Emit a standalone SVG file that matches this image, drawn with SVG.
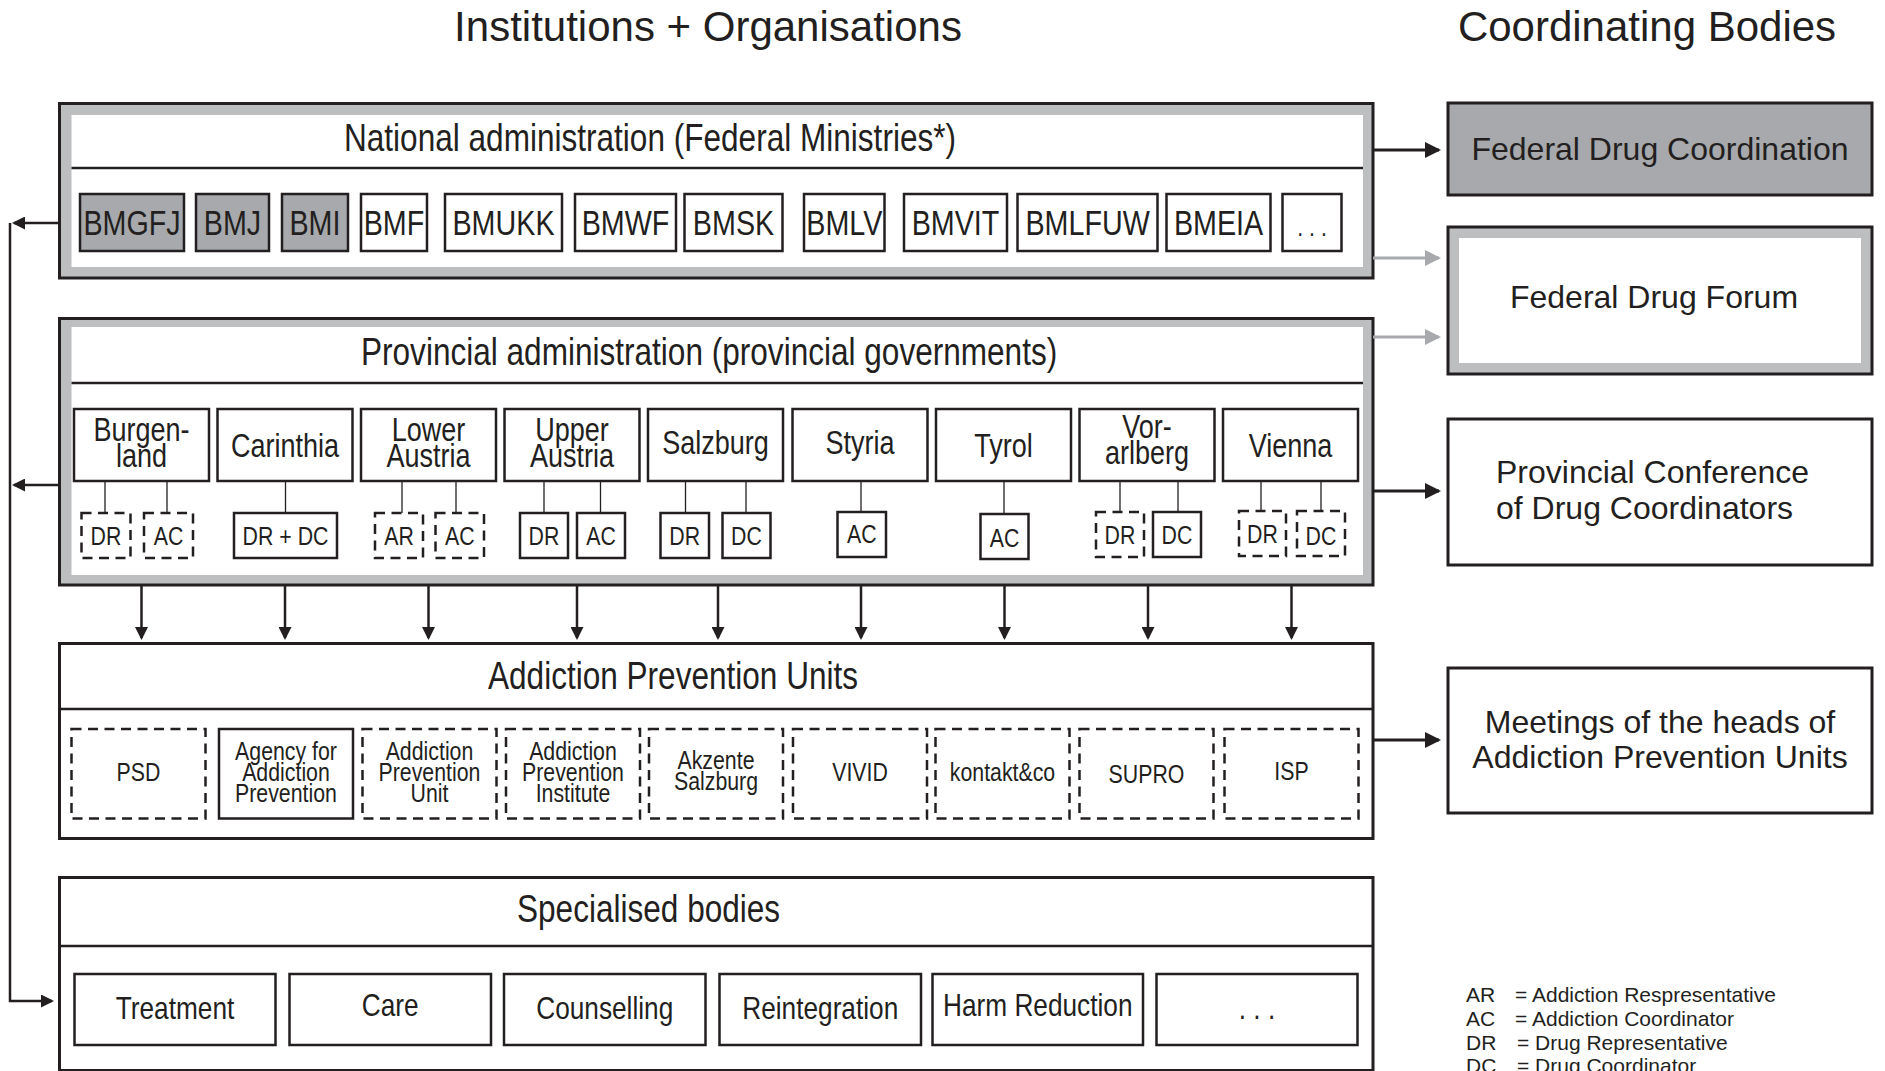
<svg xmlns="http://www.w3.org/2000/svg" width="1885" height="1071" viewBox="0 0 1885 1071">
<defs>
<style>
.band{fill:#bcbec0;stroke:#231f20;stroke-width:3}
.wh{fill:#fff;stroke:none}
.ol{fill:#fff;stroke:#231f20;stroke-width:3}
.bx{fill:#fff;stroke:#231f20;stroke-width:2.5}
.gb{fill:#a7a9ac;stroke:#231f20;stroke-width:2.5}
.gb3{fill:#a7a9ac;stroke:#231f20;stroke-width:3}
.ds{fill:#fff;stroke:#231f20;stroke-width:2.5;stroke-dasharray:10 6.5}
.hl{stroke:#231f20;stroke-width:2.5;fill:none}
.tl{stroke:#231f20;stroke-width:1.3;fill:none}
.cn{stroke:#231f20;stroke-width:3;fill:none}
.cg{stroke:#a7a9ac;stroke-width:3;fill:none}
.cs{stroke:#231f20;stroke-width:2.5;fill:none}
text{fill:#231f20}
.n{font-family:"Liberation Sans",Arial,sans-serif;transform-box:fill-box;transform-origin:center;transform:scaleX(0.82)}
.n.st{transform-origin:left center}
.r{font-family:"Liberation Sans",Arial,sans-serif}
.m{text-anchor:middle}
.hd{font-size:38.5px}
.mn{font-size:35px}
.pv{font-size:33px}
.sb{font-size:26px}
.sp{font-size:32px}
.rt{font-size:32px}
.ti{font-size:42px}
.lg{font-size:21px}
</style>
<marker id="ah" viewBox="0 0 16 16" refX="14" refY="8" markerWidth="16" markerHeight="16" markerUnits="userSpaceOnUse" orient="auto"><path d="M0,0 L16,8 L0,16 z" fill="#231f20"/></marker>
<marker id="ahg" viewBox="0 0 16 16" refX="14" refY="8" markerWidth="16" markerHeight="16" markerUnits="userSpaceOnUse" orient="auto"><path d="M0,0 L16,8 L0,16 z" fill="#a7a9ac"/></marker>
<marker id="as" viewBox="0 0 13 13" refX="11" refY="6.5" markerWidth="13" markerHeight="13" markerUnits="userSpaceOnUse" orient="auto"><path d="M0,0 L13,6.5 L0,13 z" fill="#231f20"/></marker>
</defs>
<rect width="1885" height="1071" fill="#fff"/>

<g id="titles">
<text class="r ti m" x="708" y="41">Institutions + Organisations</text>
<text class="r ti m" x="1647" y="41">Coordinating Bodies</text>
</g>

<g id="national">
<rect class="band" x="59.5" y="103.5" width="1313.5" height="174.5"/>
<rect class="wh" x="71.5" y="115" width="1291.5" height="152"/>
<line class="hl" x1="71.5" y1="168" x2="1363" y2="168"/>
<text class="n st hd" x="344" y="151">National administration (Federal Ministries*)</text>
<g id="ministries">
<rect class="gb" x="80" y="194" width="104" height="57"/><text class="n mn m" x="132" y="235">BMGFJ</text>
<rect class="gb" x="196" y="194" width="73" height="57"/><text class="n mn m" x="232.5" y="235">BMJ</text>
<rect class="gb" x="282" y="194" width="66" height="57"/><text class="n mn m" x="315" y="235">BMI</text>
<rect class="bx" x="361" y="194" width="66" height="57"/><text class="n mn m" x="394" y="235">BMF</text>
<rect class="bx" x="445" y="194" width="117" height="57"/><text class="n mn m" x="503.5" y="235">BMUKK</text>
<rect class="bx" x="575" y="194" width="101" height="57"/><text class="n mn m" x="625.5" y="235">BMWF</text>
<rect class="bx" x="684.5" y="194" width="98" height="57"/><text class="n mn m" x="733.5" y="235">BMSK</text>
<rect class="bx" x="804" y="194" width="80.5" height="57"/><text class="n mn m" x="844.25" y="235">BMLV</text>
<rect class="bx" x="904" y="194" width="103" height="57"/><text class="n mn m" x="955.5" y="235">BMVIT</text>
<rect class="bx" x="1017.5" y="194" width="140" height="57"/><text class="n mn m" x="1087.5" y="235">BMLFUW</text>
<rect class="bx" x="1166.5" y="194" width="104" height="57"/><text class="n mn m" x="1218.5" y="235">BMEIA</text>
<rect class="bx" x="1282.5" y="194" width="59" height="57"/><text class="n sb m" x="1312" y="236">. . .</text>
</g>
</g>

<g id="provincial">
<rect class="band" x="59.5" y="318.5" width="1313.5" height="266.5"/>
<rect class="wh" x="71.5" y="327" width="1291.5" height="248"/>
<line class="hl" x1="71.5" y1="383" x2="1363" y2="383"/>
<text class="n st hd" x="361" y="365">Provincial administration (provincial governments)</text>
<g id="provinces">
<rect class="bx" x="74" y="409" width="135" height="72"/><text class="n pv m" x="141.5" y="441">Burgen-</text><text class="n pv m" x="141.5" y="467">land</text>
<rect class="bx" x="217.5" y="409" width="135" height="72"/><text class="n pv m" x="285" y="457">Carinthia</text>
<rect class="bx" x="361" y="409" width="135" height="72"/><text class="n pv m" x="428.5" y="441">Lower</text><text class="n pv m" x="428.5" y="467">Austria</text>
<rect class="bx" x="504.5" y="409" width="135" height="72"/><text class="n pv m" x="572" y="441">Upper</text><text class="n pv m" x="572" y="467">Austria</text>
<rect class="bx" x="648" y="409" width="135" height="72"/><text class="n pv m" x="715.5" y="454">Salzburg</text>
<rect class="bx" x="792.5" y="409" width="135" height="72"/><text class="n pv m" x="860" y="454">Styria</text>
<rect class="bx" x="936" y="409" width="135" height="72"/><text class="n pv m" x="1003.5" y="457">Tyrol</text>
<rect class="bx" x="1079.5" y="409" width="135" height="72"/><text class="n pv m" x="1147" y="438">Vor-</text><text class="n pv m" x="1147" y="464">arlberg</text>
<rect class="bx" x="1223" y="409" width="135" height="72"/><text class="n pv m" x="1290.5" y="457">Vienna</text>
</g>
<g id="province-links">
<line class="tl" x1="105" y1="481" x2="105" y2="513"/>
<line class="tl" x1="167" y1="481" x2="167" y2="513"/>
<line class="tl" x1="285.5" y1="481" x2="285.5" y2="513"/>
<line class="tl" x1="402" y1="481" x2="402" y2="513"/>
<line class="tl" x1="456" y1="481" x2="456" y2="513"/>
<line class="tl" x1="544" y1="481" x2="544" y2="513"/>
<line class="tl" x1="600.5" y1="481" x2="600.5" y2="513"/>
<line class="tl" x1="685.5" y1="481" x2="685.5" y2="513"/>
<line class="tl" x1="746" y1="481" x2="746" y2="513"/>
<line class="tl" x1="861" y1="481" x2="861" y2="512"/>
<line class="tl" x1="1004" y1="481" x2="1004" y2="514"/>
<line class="tl" x1="1120" y1="481" x2="1120" y2="512"/>
<line class="tl" x1="1178" y1="481" x2="1178" y2="512"/>
<line class="tl" x1="1261" y1="481" x2="1261" y2="511"/>
<line class="tl" x1="1321" y1="481" x2="1321" y2="511"/>
</g>
<g id="representatives">
<rect class="ds" x="81.5" y="513" width="49" height="45"/><text class="n sb m" x="106" y="545">DR</text>
<rect class="ds" x="144" y="513" width="49" height="45"/><text class="n sb m" x="168.5" y="545">AC</text>
<rect class="bx" x="234" y="513" width="103" height="45"/><text class="n sb m" x="285.5" y="545">DR + DC</text>
<rect class="ds" x="375" y="513" width="48" height="45"/><text class="n sb m" x="399" y="545">AR</text>
<rect class="ds" x="435.5" y="513" width="48.5" height="45"/><text class="n sb m" x="459.75" y="545">AC</text>
<rect class="bx" x="520" y="513" width="48" height="45"/><text class="n sb m" x="544" y="545">DR</text>
<rect class="bx" x="577" y="513" width="48" height="45"/><text class="n sb m" x="601" y="545">AC</text>
<rect class="bx" x="660.5" y="513" width="48.5" height="45"/><text class="n sb m" x="684.75" y="545">DR</text>
<rect class="bx" x="722.5" y="513" width="48" height="45"/><text class="n sb m" x="746.5" y="545">DC</text>
<rect class="bx" x="837.5" y="512" width="48.5" height="45"/><text class="n sb m" x="861.75" y="543">AC</text>
<rect class="bx" x="980.5" y="514" width="48" height="45"/><text class="n sb m" x="1004.5" y="547">AC</text>
<rect class="ds" x="1096" y="512" width="48" height="45"/><text class="n sb m" x="1120" y="544">DR</text>
<rect class="bx" x="1153" y="512" width="48" height="45"/><text class="n sb m" x="1177" y="544">DC</text>
<rect class="ds" x="1239" y="511" width="47" height="45"/><text class="n sb m" x="1262.5" y="543">DR</text>
<rect class="ds" x="1297" y="511" width="48" height="45"/><text class="n sb m" x="1321" y="545">DC</text>
</g>
</g>

<g id="prevention-units">
<rect class="ol" x="59.5" y="643.5" width="1313.5" height="195"/>
<line class="hl" x1="59.5" y1="709" x2="1373" y2="709"/>
<text class="n st hd" x="488" y="689">Addiction Prevention Units</text>
<g id="units">
<rect class="ds" x="71.5" y="729" width="134" height="89.5"/><text class="n sb m" x="138.5" y="781">PSD</text>
<rect class="bx" x="219" y="729" width="134" height="89.5"/><text class="n sb m" x="286" y="760">Agency for</text><text class="n sb m" x="286" y="781">Addiction</text><text class="n sb m" x="286" y="802">Prevention</text>
<rect class="ds" x="362.5" y="729" width="134" height="89.5"/><text class="n sb m" x="429.5" y="760">Addiction</text><text class="n sb m" x="429.5" y="781">Prevention</text><text class="n sb m" x="429.5" y="802">Unit</text>
<rect class="ds" x="506" y="729" width="134" height="89.5"/><text class="n sb m" x="573" y="760">Addiction</text><text class="n sb m" x="573" y="781">Prevention</text><text class="n sb m" x="573" y="802">Institute</text>
<rect class="ds" x="649" y="729" width="134" height="89.5"/><text class="n sb m" x="716" y="769">Akzente</text><text class="n sb m" x="716" y="790">Salzburg</text>
<rect class="ds" x="793" y="729" width="134" height="89.5"/><text class="n sb m" x="860" y="781">VIVID</text>
<rect class="ds" x="935.5" y="729" width="134" height="89.5"/><text class="n sb m" x="1002.5" y="781">kontakt&amp;co</text>
<rect class="ds" x="1079.5" y="729" width="134" height="89.5"/><text class="n sb m" x="1146.5" y="783">SUPRO</text>
<rect class="ds" x="1224.5" y="729" width="134" height="89.5"/><text class="n sb m" x="1291.5" y="780">ISP</text>
</g>
</g>

<g id="specialised-bodies">
<rect class="ol" x="59.5" y="877.5" width="1313.5" height="193"/>
<line class="hl" x1="59.5" y1="946" x2="1373" y2="946"/>
<text class="n st hd" x="517" y="922">Specialised bodies</text>
<g id="bodies">
<rect class="bx" x="74.5" y="974" width="201" height="71"/><text class="n sp m" x="175" y="1019">Treatment</text>
<rect class="bx" x="289.5" y="974" width="201.5" height="71"/><text class="n sp m" x="390.25" y="1016">Care</text>
<rect class="bx" x="504" y="974" width="201.5" height="71"/><text class="n sp m" x="604.75" y="1019">Counselling</text>
<rect class="bx" x="719.5" y="974" width="201.5" height="71"/><text class="n sp m" x="820.25" y="1019">Reintegration</text>
<rect class="bx" x="932.5" y="974" width="210.5" height="71"/><text class="n sp m" x="1037.75" y="1016">Harm Reduction</text>
<rect class="bx" x="1156.5" y="974" width="201" height="71"/><text class="n sp m" x="1257" y="1019">. . .</text>
</g>
</g>

<g id="federal-drug-coordination">
<rect class="gb3" x="1448" y="103" width="424" height="92"/>
<text class="r rt m" x="1660" y="160">Federal Drug Coordination</text>
</g>
<g id="federal-drug-forum">
<rect class="band" x="1448" y="227" width="424" height="147"/>
<rect class="wh" x="1459" y="238" width="402" height="125"/>
<text class="r rt m" x="1654" y="308">Federal Drug Forum</text>
</g>
<g id="provincial-conference">
<rect class="ol" x="1448" y="419" width="424" height="146"/>
<text class="r rt" x="1496" y="483">Provincial Conference</text>
<text class="r rt" x="1496" y="519">of Drug Coordinators</text>
</g>
<g id="meetings-heads">
<rect class="ol" x="1448" y="668" width="424" height="145"/>
<text class="r rt m" x="1660" y="733">Meetings of the heads of</text>
<text class="r rt m" x="1660" y="768">Addiction Prevention Units</text>
</g>

<g id="legend">
<text class="r lg" x="1466" y="1002">AR</text><text class="r lg" x="1515" y="1002">= Addiction Respresentative</text>
<text class="r lg" x="1466" y="1026">AC</text><text class="r lg" x="1515" y="1026">= Addiction Coordinator</text>
<text class="r lg" x="1466" y="1050">DR</text><text class="r lg" x="1517" y="1050">= Drug Representative</text>
<text class="r lg" x="1466" y="1073">DC</text><text class="r lg" x="1517" y="1073">= Drug Coordinator</text>
</g>

<g id="connectors">
<line class="cn" x1="1373" y1="150" x2="1439" y2="150" marker-end="url(#ah)"/>
<line class="cg" x1="1373" y1="258" x2="1439" y2="258" marker-end="url(#ahg)"/>
<line class="cg" x1="1373" y1="337" x2="1439" y2="337" marker-end="url(#ahg)"/>
<line class="cn" x1="1373" y1="491" x2="1439" y2="491" marker-end="url(#ah)"/>
<line class="cn" x1="1373" y1="740" x2="1439" y2="740" marker-end="url(#ah)"/>
<line class="cs" x1="59" y1="223" x2="14" y2="223" marker-end="url(#as)"/>
<line class="cs" x1="59" y1="485" x2="14" y2="485" marker-end="url(#as)"/>
<path class="cs" d="M10,223 V1001 H52" marker-end="url(#as)"/>
<line class="cs" x1="141.5" y1="586" x2="141.5" y2="638" marker-end="url(#as)"/>
<line class="cs" x1="285" y1="586" x2="285" y2="638" marker-end="url(#as)"/>
<line class="cs" x1="428.5" y1="586" x2="428.5" y2="638" marker-end="url(#as)"/>
<line class="cs" x1="577" y1="586" x2="577" y2="638" marker-end="url(#as)"/>
<line class="cs" x1="718" y1="586" x2="718" y2="638" marker-end="url(#as)"/>
<line class="cs" x1="861" y1="586" x2="861" y2="638" marker-end="url(#as)"/>
<line class="cs" x1="1004.5" y1="586" x2="1004.5" y2="638" marker-end="url(#as)"/>
<line class="cs" x1="1148" y1="586" x2="1148" y2="638" marker-end="url(#as)"/>
<line class="cs" x1="1291.5" y1="586" x2="1291.5" y2="638" marker-end="url(#as)"/>
</g>
</svg>
